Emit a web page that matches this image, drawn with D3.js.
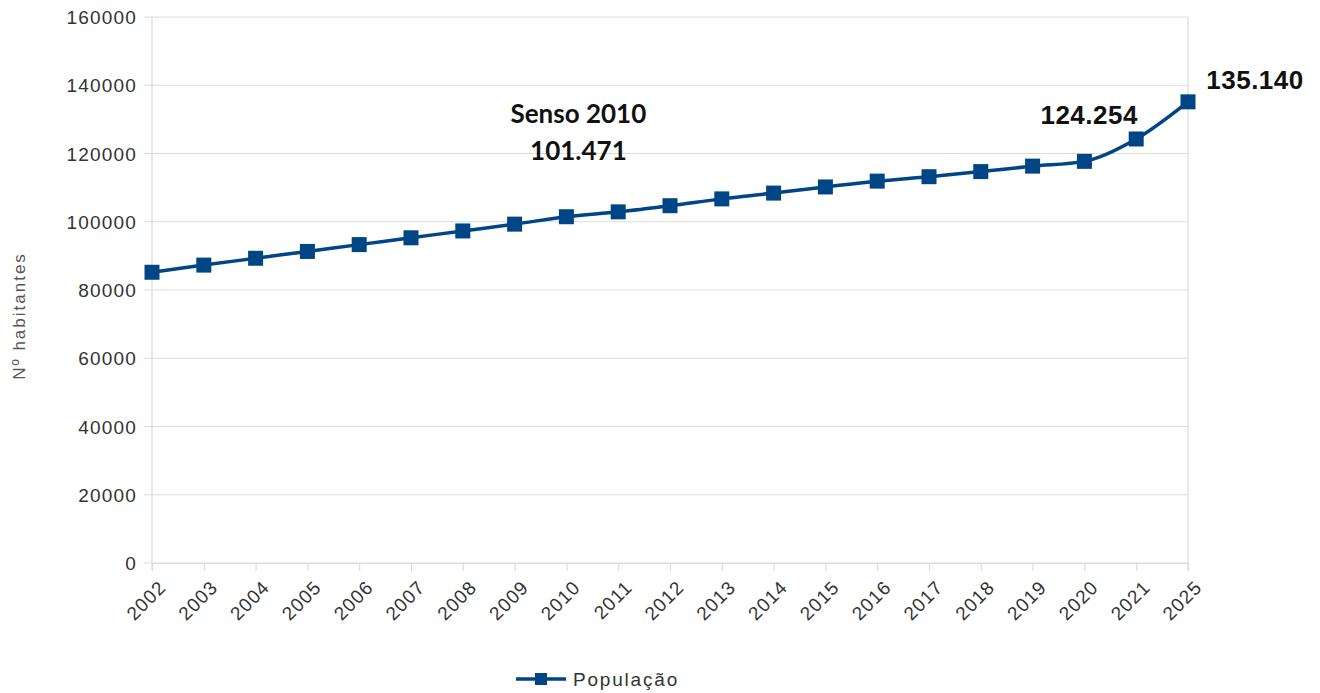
<!DOCTYPE html>
<html>
<head>
<meta charset="utf-8">
<script src="https://cdn.jsdelivr.net/npm/d3@7"></script>
<style>
  html, body { margin: 0; padding: 0; background: #fff; }
  svg { display: block; }
</style>
</head>
<body>
<svg id="chart" width="1320" height="693"></svg>
<script>
// Population per year
const years = ["2002","2003","2004","2005","2006","2007","2008","2009","2010","2011",
               "2012","2013","2014","2015","2016","2017","2018","2019","2020","2021","2025"];
const population = [85200, 87300, 89300, 91300, 93300, 95300, 97300, 99300, 101471, 102900,
                    104700, 106700, 108400, 110200, 111900, 113200, 114700, 116300, 117700, 124254, 135140];
const yTicks = [0, 20000, 40000, 60000, 80000, 100000, 120000, 140000, 160000];
const seriesName = "População";
const yTitle = "Nº habitantes";
const notes = [
  { year: "2010", lines: ["Senso 2010", "101.471"] },
  { year: "2021", lines: ["124.254"] },
  { year: "2025", lines: ["135.140"] }
];

const svg = d3.select("#chart");
const m = { left: 152, right: 1188, top: 17, bottom: 563 };

const x = d3.scalePoint().domain(years).range([m.left, m.right]);
const y = d3.scaleLinear().domain([0, 160000]).range([m.bottom, m.top]);

const grid = "#dcdcdc";
const blue = "#004586";
const sans = "Liberation Sans, Arial, sans-serif";

// horizontal gridlines
svg.append("g").selectAll("line").data(yTicks).join("line")
  .attr("x1", m.left - 8).attr("x2", m.right)
  .attr("y1", d => y(d)).attr("y2", d => y(d))
  .attr("stroke", grid).attr("stroke-width", 1.2);

// plot borders left/right
svg.append("line").attr("x1", m.left).attr("x2", m.left).attr("y1", m.top).attr("y2", m.bottom + 8)
  .attr("stroke", grid).attr("stroke-width", 1.2);
svg.append("line").attr("x1", m.right).attr("x2", m.right).attr("y1", m.top).attr("y2", m.bottom + 8)
  .attr("stroke", grid).attr("stroke-width", 1.2);

// y axis labels
const yAxis = d3.axisLeft(y).tickValues(yTicks).tickSize(0).tickPadding(0).tickFormat(d3.format("d"));
const gy = svg.append("g").attr("transform", `translate(${m.left - 15},0)`).call(yAxis);
gy.select(".domain").remove();
gy.selectAll("text").attr("font-family", sans)
  .attr("font-size", 19).attr("letter-spacing", 1.2).attr("fill", "#333").attr("dy", "0.35em");

// x axis
const xAxis = d3.axisBottom(x).tickSize(8).tickPadding(0);
const gx = svg.append("g").attr("transform", `translate(0,${m.bottom})`).call(xAxis);
gx.select(".domain").attr("stroke", grid).attr("stroke-width", 1.2);
gx.selectAll(".tick line").attr("stroke", grid).attr("stroke-width", 1.2);
gx.selectAll("text")
  .attr("font-family", sans)
  .attr("font-size", 19).attr("letter-spacing", 1).attr("fill", "#333")
  .attr("text-anchor", "end")
  .attr("dy", "0")
  .attr("transform", "translate(9,20) rotate(-45)");

// y title
svg.append("text")
  .attr("transform", "translate(25,316) rotate(-90)")
  .attr("text-anchor", "middle")
  .attr("font-family", sans)
  .attr("font-size", 17).attr("letter-spacing", 2).attr("fill", "#555")
  .text(yTitle);

// line
const data = years.map((yr, i) => ({ yr, v: population[i] }));
const line = d3.line().x(d => x(d.yr)).y(d => y(d.v)).curve(d3.curveMonotoneX);
svg.append("path").datum(data).attr("d", line)
  .attr("fill", "none").attr("stroke", blue).attr("stroke-width", 3.5);

// markers
const ms = 15;
svg.append("g").selectAll("rect").data(data).join("rect")
  .attr("x", d => x(d.yr) - ms / 2).attr("y", d => y(d.v) - ms / 2)
  .attr("width", ms).attr("height", ms).attr("fill", blue);

// annotations
const noteStyle = {
  "2010": { dx: 12, dy: [-94, -57], font: "Lato, 'Open Sans', sans-serif", size: 26, ls: 0 },
  "2021": { dx: -47, dy: [-15], font: sans, size: 26, ls: 0.5 },
  "2025": { dx: 67, dy: [-13], font: sans, size: 26, ls: 0.5 }
};
notes.forEach(n => {
  const i = years.indexOf(n.year);
  const s = noteStyle[n.year];
  n.lines.forEach((t, k) => {
    svg.append("text")
      .attr("x", x(n.year) + s.dx)
      .attr("y", y(population[i]) + s.dy[k])
      .attr("text-anchor", "middle")
      .attr("font-family", s.font)
      .attr("font-weight", "bold")
      .attr("font-size", s.size).attr("letter-spacing", s.ls).attr("fill", "#111")
      .text(t);
  });
});

// legend
const lg = svg.append("g").attr("transform", "translate(516,679)");
lg.append("line").attr("x1", 0).attr("x2", 50).attr("y1", 0).attr("y2", 0)
  .attr("stroke", blue).attr("stroke-width", 3.5);
lg.append("rect").attr("x", 25 - 6).attr("y", -6).attr("width", 12).attr("height", 12).attr("fill", blue);
lg.append("text").attr("x", 57).attr("y", 0).attr("dy", "0.35em")
  .attr("font-family", sans)
  .attr("font-size", 19).attr("letter-spacing", 1.8).attr("fill", "#333")
  .text(seriesName);
</script>
</body>
</html>
